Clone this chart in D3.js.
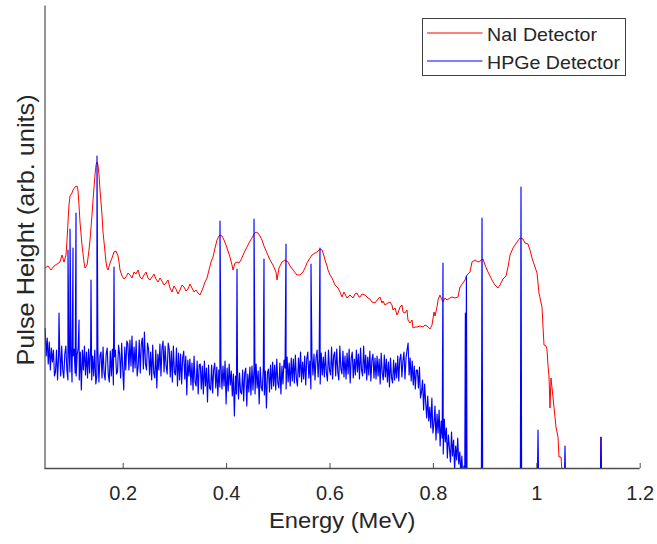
<!DOCTYPE html>
<html>
<head>
<meta charset="utf-8">
<script src="https://cdn.jsdelivr.net/npm/d3@7"></script>
<style>
  html, body { margin: 0; padding: 0; background: #ffffff; }
  svg { display: block; }
  text { font-family: "Liberation Sans", Arial, Helvetica, sans-serif; fill: #262626; }
</style>
</head>
<body>
<svg id="chart" width="657" height="544"></svg>
<script>
// Energy axis ticks (MeV)
const energyTicks = [0.2, 0.4, 0.6, 0.8, 1.0, 1.2];
const energyTickLabels = ["0.2", "0.4", "0.6", "0.8", "1", "1.2"];

// NaI detector spectrum: energy (MeV) and pulse height (arb. units)
const naiEnergy = [
  0.0500, 0.0555, 0.0613, 0.0671, 0.0729, 0.0787, 0.0826, 0.0865, 0.0903, 0.0923,
  0.0942, 0.0961, 0.0981, 0.1019, 0.1039, 0.1077, 0.1116, 0.1135, 0.1155, 0.1174,
  0.1213, 0.1251, 0.1271, 0.1310, 0.1329, 0.1348, 0.1368, 0.1406, 0.1426, 0.1464,
  0.1484, 0.1503, 0.1522, 0.1542, 0.1561, 0.1600, 0.1619, 0.1658, 0.1677, 0.1697,
  0.1716, 0.1755, 0.1793, 0.1832, 0.1871, 0.1909, 0.1929, 0.1948, 0.1987, 0.2025,
  0.2064, 0.2103, 0.2141, 0.2180, 0.2219, 0.2257, 0.2296, 0.2335, 0.2373, 0.2412,
  0.2451, 0.2489, 0.2528, 0.2567, 0.2605, 0.2644, 0.2683, 0.2722, 0.2760, 0.2799,
  0.2838, 0.2876, 0.2915, 0.2954, 0.2992, 0.3031, 0.3070, 0.3108, 0.3147, 0.3186,
  0.3224, 0.3263, 0.3302, 0.3340, 0.3379, 0.3418, 0.3456, 0.3495, 0.3553, 0.3592,
  0.3631, 0.3669, 0.3708, 0.3747, 0.3786, 0.3824, 0.3863, 0.3882, 0.3921, 0.3959,
  0.3998, 0.4037, 0.4075, 0.4114, 0.4134, 0.4172, 0.4211, 0.4250, 0.4288, 0.4346,
  0.4404, 0.4462, 0.4501, 0.4540, 0.4578, 0.4617, 0.4656, 0.4694, 0.4733, 0.4791,
  0.4849, 0.4907, 0.4965, 0.4985, 0.5023, 0.5081, 0.5139, 0.5197, 0.5236, 0.5294,
  0.5371, 0.5429, 0.5487, 0.5526, 0.5565, 0.5623, 0.5661, 0.5720, 0.5758, 0.5816,
  0.5855, 0.5894, 0.5913, 0.5952, 0.5971, 0.6010, 0.6048, 0.6106, 0.6164, 0.6203,
  0.6242, 0.6280, 0.6338, 0.6396, 0.6455, 0.6493, 0.6532, 0.6571, 0.6590, 0.6629,
  0.6687, 0.6745, 0.6783, 0.6822, 0.6880, 0.6938, 0.6977, 0.7015, 0.7035, 0.7073,
  0.7131, 0.7170, 0.7209, 0.7228, 0.7267, 0.7306, 0.7325, 0.7364, 0.7402, 0.7422,
  0.7460, 0.7499, 0.7518, 0.7557, 0.7596, 0.7615, 0.7654, 0.7692, 0.7750, 0.7809,
  0.7847, 0.7886, 0.7944, 0.7983, 0.8021, 0.8041, 0.8079, 0.8099, 0.8137, 0.8176,
  0.8195, 0.8234, 0.8273, 0.8331, 0.8369, 0.8427, 0.8485, 0.8524, 0.8582, 0.8621,
  0.8660, 0.8718, 0.8756, 0.8814, 0.8872, 0.8911, 0.8969, 0.9008, 0.9066, 0.9104,
  0.9143, 0.9201, 0.9259, 0.9298, 0.9356, 0.9414, 0.9453, 0.9492, 0.9550, 0.9627,
  0.9685, 0.9743, 0.9781, 0.9839, 0.9878, 0.9917, 0.9975, 1.0014, 1.0052, 1.0110,
  1.0130, 1.0149, 1.0188, 1.0207, 1.0226, 1.0246, 1.0265, 1.0284, 1.0323, 1.0381,
  1.0420, 1.0439, 1.0478, 1.0497, 1.0600, 1.1240, 1.1251, 1.1262, 1.2000
];
const naiHeight = [
  200, 202, 198, 202, 204, 206, 213, 206, 213, 228,
  246, 263, 272, 275, 278, 281, 282, 278, 263, 246,
  223, 206, 200, 203, 210, 218, 228, 253, 268, 293,
  303, 306, 303, 293, 278, 253, 236, 216, 206, 200,
  198, 205, 210, 216, 217, 212, 206, 198, 192, 189,
  191, 195, 193, 190, 196, 194, 198, 191, 189, 193,
  196, 190, 188, 191, 194, 189, 186, 190, 187, 183,
  185, 188, 180, 176, 182, 179, 174, 178, 183, 181,
  177, 179, 184, 180, 176, 178, 175, 173, 180, 186,
  190, 198, 206, 211, 220, 228, 232, 233, 232, 228,
  223, 217, 211, 203, 198, 205, 206, 205, 208, 215,
  221, 227, 230, 234, 236, 235, 232, 228, 222, 215,
  208, 203, 196, 188, 200, 206, 208, 206, 202, 198,
  193, 193, 196, 200, 205, 210, 213, 215, 216, 219,
  218, 212, 208, 202, 198, 193, 190, 183, 180, 176,
  171, 176, 170, 173, 170, 174, 175, 171, 171, 174,
  173, 170, 169, 166, 165, 169, 171, 165, 167, 163,
  165, 166, 163, 158, 160, 153, 155, 161, 163, 156,
  155, 158, 148, 145, 148, 140, 141, 141, 142, 141,
  143, 142, 139, 143, 156, 152, 161, 168, 173, 168,
  166, 170, 168, 170, 171, 170, 171, 181, 185, 188,
  193, 196, 206, 208, 206, 207, 209, 203, 196, 192,
  188, 183, 180, 183, 189, 192, 201, 213, 220, 226,
  230, 229, 225, 224, 218, 210, 201, 195, 175, 161,
  141, 123, 122, 118, 103, 91, 60, 90, 71, 41,
  31, 11, 11, -4, -4, -4, 31, -4, -4
];

// HPGe detector: continuum sampled every 2 keV from 0.05 MeV
const hpgeStart = 0.05;
const hpgeStep = 0.002;
const hpgeContinuum = [
  140, 112, 130, 104, 126, 98, 120, 106, 118, 92,
  96, 118, 88, 112, 120, 92, 122, 98, 90, 114,
  122, 98, 88, 118, 96, 121, 86, 112, 119, 95,
  92, 114, 120, 88, 116, 78, 118, 98, 122, 93,
  116, 90, 119, 95, 121, 88, 112, 92, 118, 84,
  92, 117, 86, 112, 116, 90, 121, 95, 88, 114,
  120, 94, 86, 117, 92, 119, 83, 111, 118, 94,
  96, 123, 114, 90, 125, 100, 78, 121, 98, 127,
  124, 98, 128, 102, 132, 96, 121, 100, 127, 92,
  102, 128, 95, 124, 130, 99, 136, 104, 98, 125,
  119, 93, 116, 88, 123, 95, 90, 118, 80, 114,
  98, 124, 92, 120, 127, 96, 122, 102, 94, 125,
  119, 91, 117, 86, 122, 96, 93, 120, 82, 115,
  88, 114, 84, 110, 117, 89, 112, 73, 108, 92,
  109, 83, 105, 78, 112, 86, 82, 107, 74, 103,
  104, 79, 102, 74, 107, 82, 100, 66, 103, 80,
  78, 103, 75, 99, 105, 80, 101, 72, 98, 81,
  105, 79, 102, 82, 107, 64, 100, 77, 104, 83,
  97, 72, 94, 52, 92, 74, 99, 69, 95, 76,
  74, 98, 67, 95, 100, 62, 94, 76, 101, 73,
  102, 78, 99, 74, 104, 80, 97, 64, 101, 81,
  77, 101, 73, 97, 60, 95, 99, 76, 103, 79,
  106, 82, 103, 78, 109, 85, 80, 105, 74, 102,
  84, 108, 100, 79, 111, 86, 105, 82, 110, 87,
  109, 85, 113, 89, 82, 110, 91, 116, 86, 106,
  89, 112, 83, 109, 116, 90, 107, 79, 113, 93,
  114, 88, 110, 118, 91, 109, 84, 115, 93, 111,
  91, 116, 95, 87, 118, 98, 93, 121, 89, 112,
  116, 92, 119, 96, 88, 122, 99, 94, 117, 91,
  112, 89, 115, 94, 119, 85, 110, 116, 90, 109,
  93, 118, 96, 114, 89, 120, 98, 92, 122, 95,
  113, 88, 111, 93, 117, 87, 108, 114, 90, 110,
  89, 112, 92, 109, 84, 115, 95, 88, 113, 91,
  109, 86, 106, 81, 110, 90, 85, 108, 88, 105,
  90, 112, 87, 109, 114, 91, 107, 116, 89, 110,
  118, 125, 93, 110, 87, 107, 83, 102, 79, 98,
  98, 80, 101, 70, 76, 88, 58, 84, 66, 50,
  72, 47, 61, 40, 70, 35, 44, 62, 28, 54,
  35, 58, 22, 47, 30, 14, 49, 26, 40, 10,
  33, 20, 6, 36, 12, 28, -2, 22, 8, 30,
  4, 16, -6, 12, -14, 2
];
// level of the HPGe trace beyond the continuum (below the visible range)
const hpgeFloor = -15;

// HPGe photopeaks: energy (MeV) and peak height (arb. units)
const hpgePeakEnergy = [
  0.0768, 0.0942, 0.0981, 0.1039, 0.1097, 0.1155, 0.1387, 0.1503, 0.1832,
  0.3882, 0.4211, 0.4540, 0.4733, 0.5159, 0.5642, 0.5816,
  0.8195, 0.8628, 0.8648, 0.8950, 0.9704, 1.0033, 1.0555, 1.1251
];
const hpgePeakHeight = [
  155, 218, 239, 220, 255, 148, 188, 312, 201,
  247, 199, 249, 209, 224, 204, 220,
  205, 155, 192, 250, 281, 38, 22, 31
];

const seriesNames = ["NaI Detector", "HPGe Detector"];
const seriesColors = ["#ff0000", "#0000ff"];

// ---- layout ----
const svg = d3.select("#chart");
const plot = { left: 44.5, right: 639.7, top: 5, bottom: 468 };

const x = d3.scaleLinear().domain([0.05, 1.2]).range([plot.left + 0.65, plot.right]);
const y = d3.scaleLinear().domain([0, 463]).range([plot.bottom, plot.top]);

svg.append("rect").attr("width", 657).attr("height", 544).attr("fill", "#ffffff");

svg.append("defs").append("clipPath").attr("id", "plotClip")
  .append("rect")
  .attr("x", plot.left).attr("y", plot.top)
  .attr("width", plot.right - plot.left).attr("height", plot.bottom - plot.top);

// ---- series ----
const naiData = naiEnergy.map((e, i) => [e, naiHeight[i]]);

const hpgeData = hpgeContinuum.map((v, i) => [hpgeStart + i * hpgeStep, v]);
const hpgeLast = hpgeStart + (hpgeContinuum.length - 1) * hpgeStep;
hpgePeakEnergy.forEach((e, i) => {
  if (e > hpgeLast + 0.001) {
    hpgeData.push([e - 0.0012, hpgeFloor], [e, hpgePeakHeight[i]], [e + 0.0012, hpgeFloor]);
  } else {
    hpgeData.push([e, hpgePeakHeight[i]]);
  }
});
hpgeData.push([1.2, hpgeFloor]);
hpgeData.sort((a, b) => a[0] - b[0]);

const line = d3.line().x(d => x(d[0])).y(d => y(d[1]));

const lines = svg.append("g").attr("clip-path", "url(#plotClip)");
lines.append("path").datum(naiData)
  .attr("d", line).attr("fill", "none")
  .attr("stroke", seriesColors[0]).attr("stroke-width", 1)
  .attr("stroke-linejoin", "round");
lines.append("path").datum(hpgeData)
  .attr("d", line).attr("fill", "none")
  .attr("stroke", seriesColors[1]).attr("stroke-width", 1.15)
  .attr("stroke-linejoin", "round");

// ---- axes ----
const xAxis = d3.axisBottom(x)
  .tickValues(energyTicks)
  .tickFormat((d, i) => energyTickLabels[i])
  .tickSizeInner(-5).tickSizeOuter(0).tickPadding(18);

const gx = svg.append("g").attr("transform", `translate(0,${plot.bottom})`).call(xAxis);
gx.select(".domain").attr("stroke", "#4d4d4d").attr("stroke-width", 1.3)
  .attr("d", `M${plot.left},0.5H${plot.right}`);
gx.selectAll(".tick line").attr("stroke", "#4d4d4d").attr("stroke-width", 1);
gx.selectAll(".tick text")
  .attr("font-family", "Liberation Sans, Arial, sans-serif")
  .attr("font-size", 20).attr("fill", "#262626");

const yAxis = d3.axisLeft(y).tickValues([]).tickSizeOuter(0);
const gy = svg.append("g").attr("transform", `translate(${plot.left},0)`).call(yAxis);
gy.select(".domain").attr("stroke", "#4d4d4d").attr("stroke-width", 1.2);

// axis titles
svg.append("text")
  .attr("transform", `translate(${(plot.left + plot.right) / 2},528) scale(1.08,1)`)
  .attr("text-anchor", "middle").attr("font-size", 22)
  .text("Energy (MeV)");

svg.append("text")
  .attr("transform", `translate(34,230) rotate(-90) scale(1.1,1)`)
  .attr("text-anchor", "middle").attr("font-size", 23)
  .text("Pulse Height (arb. units)");

// ---- legend ----
const legend = svg.append("g").attr("transform", "translate(422.5,18.5)");
legend.append("rect").attr("width", 203).attr("height", 57)
  .attr("fill", "#ffffff").attr("stroke", "#404040").attr("stroke-width", 1);
seriesNames.forEach((name, i) => {
  const cy = 14.5 + i * 28;
  legend.append("line")
    .attr("x1", 4.5).attr("x2", 60).attr("y1", cy).attr("y2", cy)
    .attr("stroke", seriesColors[i]).attr("stroke-width", 1);
  legend.append("text")
    .attr("transform", `translate(64.5,${cy + 7.5}) scale(1.09,1)`)
    .attr("font-size", 18).attr("fill", "#1a1a1a")
    .text(name);
});
</script>
</body>
</html>
